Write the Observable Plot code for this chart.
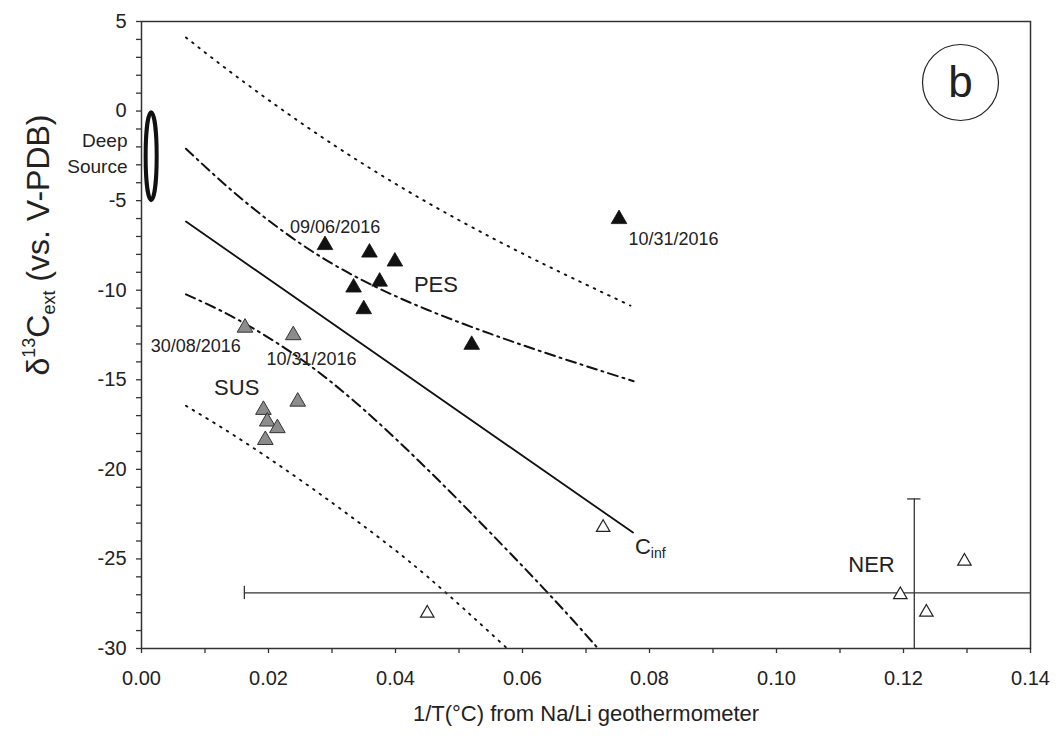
<!DOCTYPE html>
<html>
<head>
<meta charset="utf-8">
<script src="https://cdn.jsdelivr.net/npm/d3@7"></script>
<script src="https://cdn.jsdelivr.net/npm/@observablehq/plot@0.6"></script>
<style>
  body { margin: 0; background: #fff; }
  #chart svg { display: block; }
</style>
</head>
<body>
<div id="chart"></div>
<script>
// ---------- data ----------
const pesX = [0.0289, 0.0359, 0.0399, 0.0334, 0.0375, 0.0350, 0.0520, 0.0752];
const pesY = [-7.48, -7.90, -8.40, -9.85, -9.52, -11.06, -13.05, -6.03];

const susX = [0.0163, 0.0239, 0.0246, 0.0192, 0.0198, 0.0214, 0.0195];
const susY = [-12.09, -12.51, -16.22, -16.68, -17.33, -17.70, -18.36];

const nerX = [0.0727, 0.0450, 0.1195, 0.1236, 0.1296];
const nerY = [-23.25, -28.03, -27.00, -27.98, -25.13];

// NER mean with error bars
const nerMeanX = 0.1217, nerErrX = 0.1055;
const nerMeanY = -26.9, nerErrY = 5.25;

// C_inf regression line
const cinfX = [0.0070, 0.0774];
const cinfY = [-6.17, -23.53];

// confidence band (dash-dot)
const confUpX = [0.007, 0.015, 0.025, 0.035, 0.045, 0.055, 0.065, 0.0775];
const confUpY = [-2.10, -4.67, -7.39, -9.48, -11.09, -12.44, -13.66, -15.08];
const confLoX = [0.007, 0.015, 0.025, 0.035, 0.045, 0.055, 0.065, 0.0719];
const confLoY = [-10.23, -11.61, -13.82, -16.66, -19.99, -23.56, -27.28, -30.0];

// prediction band (dotted)
const predUpX = [0.007, 0.015, 0.025, 0.035, 0.045, 0.055, 0.065, 0.077];
const predUpY = [4.11, 1.92, -0.63, -2.97, -5.10, -7.04, -8.83, -10.86];
const predLoX = [0.007, 0.015, 0.025, 0.035, 0.045, 0.0576];
const predLoY = [-16.45, -18.20, -20.59, -23.17, -25.98, -30.0];

// deep source ellipse (data units)
const deepX = 0.0016, deepYTop = -0.1, deepYBottom = -5.0, deepHalfW = 0.00087;

// annotations
const dateLabels = ["09/06/2016", "10/31/2016", "30/08/2016", "10/31/2016"];
const dateLabelX = [0.0234, 0.0767, 0.01563, 0.01968];
const dateLabelY = [-6.46, -7.15, -13.11, -13.85];
const dateLabelAnchor = ["start", "start", "end", "start"];

const groupLabels = ["PES", "SUS", "NER"];
const groupLabelX = [0.0429, 0.01143, 0.1113];
const groupLabelY = [-9.69, -15.44, -25.33];

const cinfLabelX = 0.0802, cinfLabelY = -24.75;

const xTicks = [0, 0.01, 0.02, 0.03, 0.04, 0.05, 0.06, 0.07, 0.08, 0.09, 0.10, 0.11, 0.12, 0.13, 0.14];
const xTickLabels = ["0.00", "", "0.02", "", "0.04", "", "0.06", "", "0.08", "", "0.10", "", "0.12", "", "0.14"];
const yTicks = d3.range(-30, 6, 1);
const yLabelTicks = [-30, -25, -20, -15, -10, -5, 0, 5];

// ---------- tables ----------
const zipXY = (xs, ys) => xs.map((x, i) => ({x, y: ys[i]}));
const pes = zipXY(pesX, pesY);
const sus = zipXY(susX, susY);
const ner = zipXY(nerX, nerY);
const cinf = zipXY(cinfX, cinfY);
const confUp = zipXY(confUpX, confUpY);
const confLo = zipXY(confLoX, confLoY);
const predUp = zipXY(predUpX, predUpY);
const predLo = zipXY(predLoX, predLoY);
const dates = dateLabels.map((t, i) => ({t, x: dateLabelX[i], y: dateLabelY[i], a: dateLabelAnchor[i]}));
const groups = groupLabels.map((t, i) => ({t, x: groupLabelX[i], y: groupLabelY[i]}));

const capX = 0.00105, capY = 0.37;
const FONT = "Liberation Sans, Arial, Helvetica, sans-serif";
const INK = "#222";

const dashDot = "10,5,2,5";
const dotted = "1.6,6.4";

const plot = Plot.plot({
  width: 1064,
  height: 742,
  marginLeft: 141,
  marginRight: 34,
  marginTop: 21,
  marginBottom: 94,
  style: {fontFamily: FONT, background: "#fff", color: INK, overflow: "visible"},
  x: {domain: [0, 0.14]},
  y: {domain: [-30, 5]},
  marks: [
    Plot.axisX({ticks: xTicks, tickSize: 5, tickPadding: 17, fontSize: 20, label: null,
      tickFormat: d => xTickLabels[xTicks.indexOf(d)] ?? "", stroke: "#333", strokeWidth: 1.3}),
    Plot.axisY({ticks: yTicks, tickSize: 5, tickPadding: 10, fontSize: 20, label: null,
      tickFormat: d => yLabelTicks.includes(d) ? String(d) : "", stroke: "#333", strokeWidth: 1.3}),
    Plot.frame({stroke: "#333", strokeWidth: 1.5}),

    // bands and regression line
    Plot.line(predUp, {x: "x", y: "y", curve: "natural", stroke: "#111", strokeWidth: 1.9, strokeDasharray: dotted}),
    Plot.line(predLo, {x: "x", y: "y", curve: "natural", stroke: "#111", strokeWidth: 1.9, strokeDasharray: dotted}),
    Plot.line(confUp, {x: "x", y: "y", curve: "natural", stroke: "#111", strokeWidth: 2, strokeDasharray: dashDot}),
    Plot.line(confLo, {x: "x", y: "y", curve: "natural", stroke: "#111", strokeWidth: 2, strokeDasharray: dashDot}),
    Plot.line(cinf, {x: "x", y: "y", stroke: "#111", strokeWidth: 1.8}),

    // NER error bars
    Plot.ruleY([{y: nerMeanY, x1: nerMeanX - nerErrX, x2: nerMeanX + nerErrX}],
      {y: "y", x1: "x1", x2: "x2", stroke: "#333", strokeWidth: 1.3, clip: true}),
    Plot.ruleX([{x: nerMeanX, y1: nerMeanY - nerErrY, y2: nerMeanY + nerErrY}],
      {x: "x", y1: "y1", y2: "y2", stroke: "#333", strokeWidth: 1.3, clip: true}),
    Plot.ruleX([{x: nerMeanX - nerErrX, y1: nerMeanY - capY, y2: nerMeanY + capY}],
      {x: "x", y1: "y1", y2: "y2", stroke: "#333", strokeWidth: 1.3, clip: true}),
    Plot.ruleY([{y: nerMeanY + nerErrY, x1: nerMeanX - capX, x2: nerMeanX + capX}],
      {y: "y", x1: "x1", x2: "x2", stroke: "#333", strokeWidth: 1.3, clip: true}),

    // points
    Plot.dot(ner, {x: "x", y: "y", symbol: "triangle", r: 5, fill: "#fff", stroke: "#222", strokeWidth: 1.2}),
    Plot.dot(sus, {x: "x", y: "y", symbol: "triangle", r: 5.8, fill: "#8c8c8c", stroke: "#333", strokeWidth: 1}),
    Plot.dot(pes, {x: "x", y: "y", symbol: "triangle", r: 5.8, fill: "#111", stroke: "#111", strokeWidth: 0.8}),

    // deep source ellipse
    (index, scales) => {
      const {x, y} = scales;
      const cx = x(deepX), cy = y((deepYTop + deepYBottom) / 2);
      const rx = x(deepX + deepHalfW) - cx;
      const ry = (y(deepYBottom) - y(deepYTop)) / 2;
      return d3.create("svg:ellipse")
        .attr("cx", cx).attr("cy", cy).attr("rx", rx).attr("ry", ry)
        .attr("fill", "none").attr("stroke", "#111").attr("stroke-width", 4)
        .node();
    },

    // annotations
    Plot.text(["Deep\nSource"], {x: 0, y: -2.25, dx: -14, textAnchor: "end", lineHeight: 1.4, fontSize: 19, fill: INK}),
    Plot.text(dates.filter(d => d.a === "start"), {x: "x", y: "y", text: "t", textAnchor: "start", fontSize: 18, fill: INK}),
    Plot.text(dates.filter(d => d.a === "end"), {x: "x", y: "y", text: "t", textAnchor: "end", fontSize: 18, fill: INK}),
    Plot.text(groups, {x: "x", y: "y", text: "t", textAnchor: "start", fontSize: 22, fill: INK}),

    // panel letter
    Plot.dot([0], {frameAnchor: "top-right", dx: -70, dy: 61, r: 38, stroke: "#222", strokeWidth: 1.2, fill: "none"}),
    Plot.text(["b"], {frameAnchor: "top-right", dx: -70, dy: 61, textAnchor: "middle", lineAnchor: "middle", fontSize: 44, fill: INK}),

    // x axis title
    Plot.text(["1/T(°C) from Na/Li geothermometer"], {frameAnchor: "bottom", dy: 65, lineAnchor: "middle", fontSize: 22, fill: INK}),

    // rich text: C_inf and y-axis title
    (index, scales) => {
      const {x, y} = scales;
      const g = d3.create("svg:g").attr("font-family", FONT).attr("fill", INK);
      const c = g.append("text").attr("x", x(cinfLabelX)).attr("y", y(cinfLabelY)).attr("font-size", 22);
      c.append("tspan").text("C");
      c.append("tspan").attr("font-size", 14).attr("dy", 4).text("inf");

      const t = g.append("text")
        .attr("transform", "translate(49,245) rotate(-90)")
        .attr("text-anchor", "middle")
        .attr("font-size", 32);
      t.append("tspan").text("δ");
      t.append("tspan").attr("font-size", 18).attr("dy", -14).text("13");
      t.append("tspan").attr("dy", 14).text("C");
      t.append("tspan").attr("font-size", 18).attr("dy", 6).text("ext");
      t.append("tspan").attr("dy", -6).text(" (vs. V-PDB)");
      return g.node();
    }
  ]
});

document.getElementById("chart").appendChild(plot);
</script>
</body>
</html>
